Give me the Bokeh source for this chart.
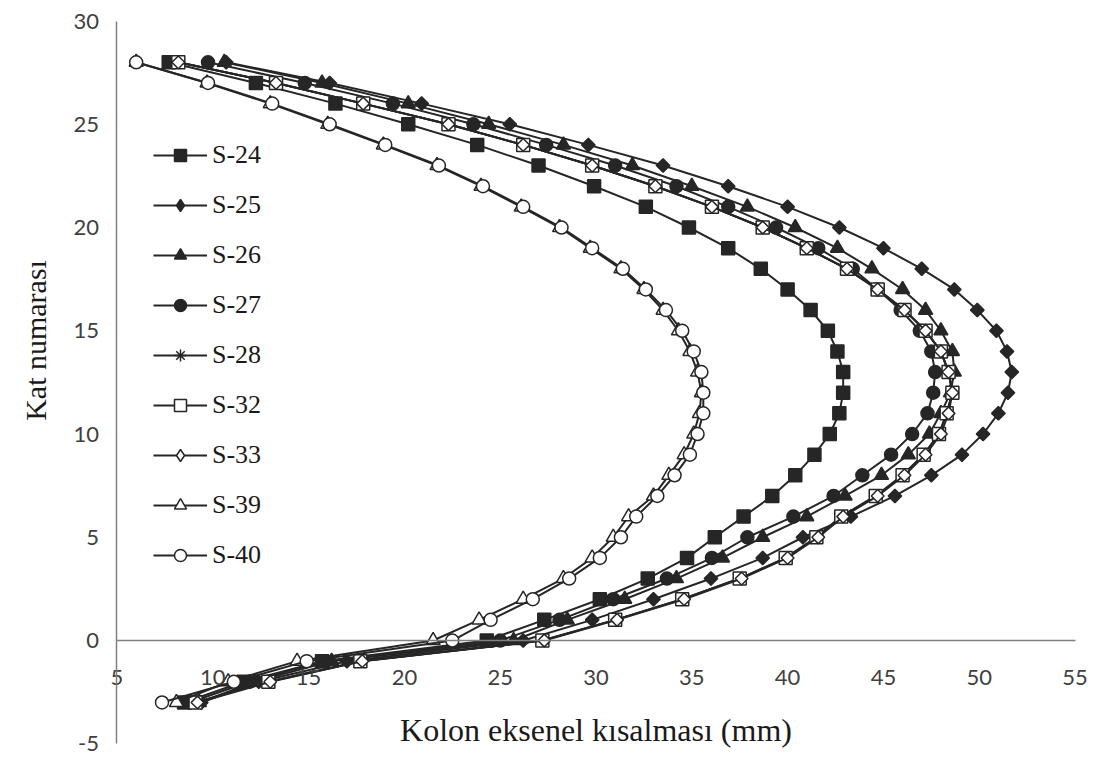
import numpy as np
from bokeh.plotting import figure
from bokeh.models import Legend, LegendItem, FixedTicker, Range1d, Label
from bokeh.embed import file_html
from bokeh.resources import INLINE

# Floor numbers (Kat numarası)
floors = list(range(-3, 29))

# Column axial shortening (mm), listed from floor -3 up to floor 28
s24 = [8.5, 11.6, 15.7, 24.3, 27.3, 30.2, 32.7, 34.75, 36.2, 37.7, 39.2, 40.4, 41.4, 42.2, 42.7, 42.9,
       42.9, 42.6, 42.1, 41.2, 40.0, 38.6, 36.9, 34.85, 32.6, 29.9, 27.0, 23.8, 20.2, 16.4, 12.25, 7.7]
s25 = [9.4, 12.4, 17.0, 26.2, 29.8, 33.0, 36.0, 38.7, 40.8, 43.3, 45.6, 47.5, 49.1, 50.2, 51.0, 51.5,
       51.7, 51.45, 50.9, 49.9, 48.7, 47.0, 45.0, 42.7, 40.0, 36.9, 33.5, 29.6, 25.5, 20.9, 16.1, 10.7]
s26 = [9.3, 12.2, 16.2, 25.7, 28.5, 31.5, 34.2, 36.6, 38.7, 41.0, 43.0, 44.9, 46.3, 47.4, 48.0, 48.5,
       48.7, 48.6, 48.0, 47.2, 46.0, 44.4, 42.6, 40.4, 37.9, 35.0, 31.9, 28.3, 24.4, 20.2, 15.7, 10.6]
s27 = [8.8, 11.9, 15.9, 25.0, 28.1, 30.9, 33.7, 36.05, 37.9, 40.3, 42.4, 43.9, 45.4, 46.5, 47.3, 47.6,
       47.7, 47.5, 46.9, 45.9, 44.7, 43.4, 41.6, 39.4, 36.9, 34.2, 31.0, 27.4, 23.6, 19.4, 14.8, 9.75]
s28 = [9.1, 12.9, 17.7, 27.2, 31.0, 34.5, 37.5, 39.9, 41.5, 42.8, 44.6, 46.0, 47.1, 47.9, 48.3, 48.6,
       48.4, 48.0, 47.2, 46.1, 44.7, 43.1, 41.0, 38.7, 36.05, 33.1, 29.8, 26.2, 22.3, 17.85, 13.3, 8.2]
s32 = [9.1, 12.9, 17.7, 27.2, 31.0, 34.5, 37.5, 39.9, 41.5, 42.8, 44.6, 46.0, 47.1, 47.9, 48.3, 48.6,
       48.4, 48.0, 47.2, 46.1, 44.7, 43.1, 41.0, 38.7, 36.05, 33.1, 29.8, 26.2, 22.3, 17.85, 13.3, 8.2]
s33 = [9.2, 13.0, 17.8, 27.3, 31.1, 34.6, 37.6, 40.0, 41.6, 42.9, 44.7, 46.1, 47.2, 48.0, 48.4, 48.6,
       48.4, 48.0, 47.2, 46.1, 44.7, 43.1, 41.0, 38.7, 36.05, 33.1, 29.8, 26.2, 22.3, 17.85, 13.3, 8.2]
s39 = [8.1, 10.8, 14.4, 21.5, 23.9, 26.2, 28.3, 29.8, 30.9, 31.7, 33.0, 33.8, 34.6, 35.1, 35.4, 35.5,
       35.3, 34.9, 34.3, 33.5, 32.5, 31.3, 29.7, 28.1, 26.1, 24.0, 21.7, 18.9, 16.0, 13.0, 9.7, 6.0]
s40 = [7.35, 11.1, 14.9, 22.5, 24.5, 26.7, 28.6, 30.2, 31.3, 32.1, 33.2, 34.1, 34.9, 35.3, 35.6, 35.6,
       35.5, 35.1, 34.5, 33.65, 32.6, 31.4, 29.8, 28.2, 26.2, 24.1, 21.8, 19.0, 16.1, 13.1, 9.75, 6.0]

series_names = ["S-24", "S-25", "S-26", "S-27", "S-28", "S-32", "S-33", "S-39", "S-40"]
series_values = [s24, s25, s26, s27, s28, s32, s33, s39, s40]

x_ticks = [5, 10, 15, 20, 25, 30, 35, 40, 45, 50, 55]
y_ticks = [-5, 0, 5, 10, 15, 20, 25, 30]
x_bounds = (5, 55)
y_bounds = (-5, 30)

DARK = "#262626"
styles = {
    "S-24": dict(marker="square", size=13, angle=0.0, fill_color=DARK, legend_marker=None),
    "S-25": dict(marker="square", size=9.5, angle=np.pi / 4, fill_color=DARK, legend_marker="diamond"),
    "S-26": dict(marker="triangle", size=14, angle=0.0, fill_color=DARK, legend_marker=None),
    "S-27": dict(marker="circle", size=13, angle=0.0, fill_color=DARK, legend_marker=None),
    "S-28": dict(marker="asterisk", size=12, angle=0.0, fill_color=DARK, legend_marker=None),
    "S-32": dict(marker="square", size=13, angle=0.0, fill_color="white", legend_marker=None),
    "S-33": dict(marker="square", size=9, angle=np.pi / 4, fill_color="white", legend_marker="diamond"),
    "S-39": dict(marker="triangle", size=14, angle=0.0, fill_color="white", legend_marker=None),
    "S-40": dict(marker="circle", size=13, angle=0.0, fill_color="white", legend_marker=None),
}

W, H = 1100, 756
p = figure(width=W, height=H, output_backend="svg", toolbar_location=None,
           x_range=Range1d(-1.08, 56.33), y_range=Range1d(-5.617, 30.993),
           min_border_left=0, min_border_right=0, min_border_top=0, min_border_bottom=0)
p.outline_line_color = None
p.xgrid.visible = False
p.ygrid.visible = False
p.background_fill_color = "white"

# x axis crossing at y = 0
xa = p.xaxis[0]
xa.fixed_location = 0
xa.bounds = x_bounds
xa.ticker = FixedTicker(ticks=x_ticks)
xa.axis_line_color = "#808080"
xa.axis_line_width = 1.5
xa.major_tick_line_color = None
xa.minor_tick_line_color = None
xa.major_label_standoff = 23
xa.major_label_text_font = "Lato"
xa.major_label_text_font_size = "22px"
xa.major_label_text_color = "#404040"
xa.axis_label = "Kolon eksenel kısalması (mm)"
xa.axis_label_text_font = "Liberation Serif"
xa.axis_label_text_font_size = "32px"
xa.axis_label_text_font_style = "normal"
xa.axis_label_text_color = "#1a1a1a"
xa.axis_label_standoff = 24

# y axis at x = 5
ya = p.yaxis[0]
ya.fixed_location = 5
ya.bounds = y_bounds
ya.ticker = FixedTicker(ticks=y_ticks)
ya.major_label_overrides = {-5: "-5"}
ya.axis_line_color = "#808080"
ya.axis_line_width = 1.5
ya.major_tick_line_color = None
ya.minor_tick_line_color = None
ya.major_label_standoff = 12
ya.major_label_text_font = "Lato"
ya.major_label_text_font_size = "22px"
ya.major_label_text_color = "#404040"

ytitle = Label(x=0.746, y=14.53, text="Kat numarası", angle=np.pi / 2,
               text_align="center", text_baseline="middle",
               text_font="Liberation Serif", text_font_size="30px", text_color="#1a1a1a")
p.add_layout(ytitle)

items = []
for name, vals in zip(series_names, series_values):
    st = styles[name]
    rl = p.line(vals, floors, line_color=DARK, line_width=2)
    rm = p.scatter(vals, floors, marker=st["marker"], size=st["size"], angle=st["angle"],
                   fill_color=st["fill_color"], line_color=DARK, line_width=1.5)
    if st["legend_marker"] is not None:
        # legend-only marker (bokeh's legend ignores the marker angle)
        rd = p.scatter(vals, floors, marker=st["legend_marker"], size=st["size"],
                       fill_color=st["fill_color"], line_color=DARK, line_width=1.5)
        rd.visible = False
        items.append(LegendItem(label=name, renderers=[rl, rd]))
    else:
        items.append(LegendItem(label=name, renderers=[rl, rm]))

legend = Legend(items=items, location=(153, 186), orientation="vertical",
                glyph_width=54, glyph_height=30, spacing=20, padding=0, margin=0,
                label_standoff=5, label_text_font="Liberation Serif",
                label_text_font_size="26px", label_text_color="#1a1a1a",
                border_line_color=None, background_fill_alpha=0,
                inactive_fill_alpha=0)
p.add_layout(legend)

open("out.html", "w").write(file_html(p, INLINE))
